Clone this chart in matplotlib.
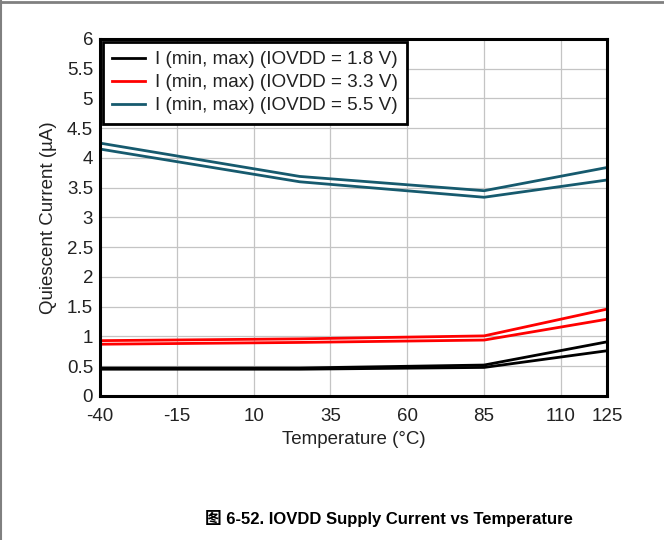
import matplotlib
matplotlib.use('Agg')
import matplotlib.pyplot as plt
from matplotlib.lines import Line2D

plt.rcParams['font.family'] = ['Liberation Sans', 'Noto Sans CJK SC', 'DejaVu Sans']

temps = [-40, 25, 85, 125]

# min / max curves per IOVDD supply
i18_max = [0.47, 0.47, 0.52, 0.91]
i18_min = [0.45, 0.45, 0.48, 0.76]
i33_max = [0.93, 0.96, 1.01, 1.46]
i33_min = [0.87, 0.90, 0.94, 1.29]
i55_max = [4.25, 3.69, 3.45, 3.84]
i55_min = [4.15, 3.60, 3.34, 3.63]

xticks = [-40, -15, 10, 35, 60, 85, 110, 125]
yticks = [0, 0.5, 1, 1.5, 2, 2.5, 3, 3.5, 4, 4.5, 5, 5.5, 6]
labels = ['I (min, max) (IOVDD = 1.8 V)',
          'I (min, max) (IOVDD = 3.3 V)',
          'I (min, max) (IOVDD = 5.5 V)']
colors = ['#000000', '#ff0000', '#165a6e']

fig = plt.figure(figsize=(6.64, 5.40), dpi=100)
ax = fig.add_axes([0.1506, 0.2667, 0.7636, 0.6611])

series = [(i18_max, i18_min), (i33_max, i33_min), (i55_max, i55_min)]
for (hi, lo), c in zip(series, colors):
    ax.plot(temps, hi, color=c, lw=2)
    ax.plot(temps, lo, color=c, lw=2)

ax.set_xlim(-40, 125)
ax.set_ylim(0, 6)
ax.set_xticks(xticks)
ax.set_yticks(yticks)
ax.set_xticklabels([str(t) for t in xticks])
ax.set_yticklabels(['%g' % t for t in yticks])
ax.tick_params(axis='both', length=0, labelsize=13.5, colors='#222222')
ax.tick_params(axis='x', pad=9)
ax.tick_params(axis='y', pad=5)
ax.grid(True, color='#c4c4c4', lw=0.9)
ax.set_axisbelow(True)
for s in ax.spines.values():
    s.set_linewidth(2.2)
    s.set_color('black')

ax.set_xlabel('Temperature (°C)', fontsize=13.5, color='#222222', labelpad=4)
ax.set_ylabel('Quiescent Current (µA)', fontsize=13.5, color='#222222', labelpad=7)

handles = [Line2D([], [], color=c, lw=2) for c in colors]
leg = ax.legend(handles, labels, loc='upper left', fontsize=13.6,
                frameon=True, fancybox=False, borderpad=0.5,
                handlelength=1.75, handletextpad=0.5, labelspacing=0.3,
                borderaxespad=0.15)
leg.get_frame().set_edgecolor('black')
leg.get_frame().set_linewidth(2)
leg.get_frame().set_alpha(1)
for t in leg.get_texts():
    t.set_color('#222222')

fig.text(0.585, 0.039, '图 6-52. IOVDD Supply Current vs Temperature',
         ha='center', va='center', fontsize=12, fontweight='bold')

# page border lines at top and left
fig.add_artist(Line2D([0, 1], [0.997, 0.997], color='#808080', lw=2,
                      transform=fig.transFigure))
fig.add_artist(Line2D([0.002, 0.002], [0, 1], color='#808080', lw=1.5,
                      transform=fig.transFigure))

fig.savefig('out.png', dpi=100)
